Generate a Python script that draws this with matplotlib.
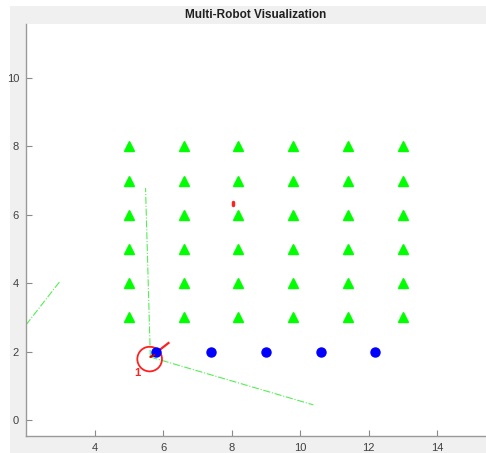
import matplotlib
matplotlib.use("Agg")
import matplotlib.pyplot as plt
from matplotlib.patches import Rectangle, Circle

# Task targets (green triangles): 6 columns x 6 rows
target_x = [5.0, 6.6, 8.2, 9.8, 11.4, 13.0]
target_y = [3, 4, 5, 6, 7, 8]

# Robot start positions (blue dots)
robot_x = [5.8, 7.4, 9.0, 10.6, 12.2]
robot_y = [2, 2, 2, 2, 2]

# Active robot pose
robot_pos = (5.61, 1.78)
robot_radius = 0.36
heading_end = (6.16, 2.25)
heading_stub = (5.75, 1.9)
robot_label = "1"

# Sensor / range rays (dash-dot green)
ray_ends = [(5.49, 6.78), (10.39, 0.44)]
ray_origin = (5.63, 1.84)
side_ray = [(2.0, 2.78), (2.98, 4.04)]

# Small red marker
mark_x = [8.05, 8.05]
mark_y = [6.29, 6.38]

x_ticks = [4, 6, 8, 10, 12, 14]
y_ticks = [0, 2, 4, 6, 8, 10]

W, H = 486, 453
fig = plt.figure(figsize=(W / 100, H / 100), dpi=100, facecolor="white")
fig.patches.append(Rectangle((10 / W, 0), 1, 1 - 6 / H, transform=fig.transFigure,
                             facecolor="#f0f0f0", edgecolor="none", zorder=-10))

ax = fig.add_axes([26 / W, 17 / H, (W - 26) / W, (436 - 24) / H])
ax.set_zorder(1)
ax.set_facecolor("white")
ax.set_xlim(2.0, 15.43)
ax.set_ylim(-0.47, 11.58)

for spine in ("top", "right"):
    ax.spines[spine].set_visible(False)
for spine in ("left", "bottom"):
    ax.spines[spine].set_color("#9a9a9a")
    ax.spines[spine].set_linewidth(1.0)

ax.set_xticks(x_ticks)
ax.set_yticks(y_ticks)
ax.tick_params(direction="in", length=4, width=0.8, color="#8a8a8a",
               labelcolor="#404040", labelsize=8, pad=5)
for lbl in ax.get_xticklabels() + ax.get_yticklabels():
    lbl.set_fontfamily("Liberation Sans")

# rays
for ex, ey in ray_ends:
    ax.plot([ray_origin[0], ex], [ray_origin[1], ey], linestyle="-.",
            color="#55ee55", linewidth=0.8, zorder=2)
ax.plot([p[0] for p in side_ray], [p[1] for p in side_ray], linestyle="-.",
        color="#55ee55", linewidth=0.8, zorder=2)

# targets
tx = [x for y in target_y for x in target_x]
ty = [y for y in target_y for x in target_x]
ax.plot(tx, ty, linestyle="none", marker="^", markersize=7.5,
        color="#00ff00", markeredgecolor="#00ff00", zorder=3)

# active robot pose
ax.add_patch(Circle(robot_pos, robot_radius, fill=False, edgecolor="#ff2020",
                    linewidth=1.3, zorder=4))
ax.plot([robot_pos[0] + 0.05, heading_end[0]], [robot_pos[1] + 0.08, heading_end[1]],
        color="#ff2020", linewidth=1.6, zorder=4)
ax.plot([robot_pos[0] + 0.02, heading_stub[0]], [robot_pos[1] + 0.06, heading_stub[1]],
        color="#cc0000", linewidth=1.2, zorder=6)
ax.text(5.24, 1.37, robot_label, color="#ff2020", fontsize=8, fontweight="bold",
        ha="center", va="center", family="Liberation Sans", zorder=6)

# robots
ax.plot(robot_x, robot_y, linestyle="none", marker="o", markersize=6.5,
        color="#0000ff", markeredgecolor="#0000ff", zorder=5)

ax.plot(mark_x, mark_y, color="#ff2020", linewidth=2.5, solid_capstyle="round", zorder=5)

fig.text((26 + W) / 2 / W, 1 - 15 / H, "Multi-Robot Visualization", ha="center",
         va="center", fontsize=8.5, fontweight="bold", color="#202020",
         family="Liberation Sans")

fig.savefig("out.png", dpi=100, facecolor=fig.get_facecolor())
